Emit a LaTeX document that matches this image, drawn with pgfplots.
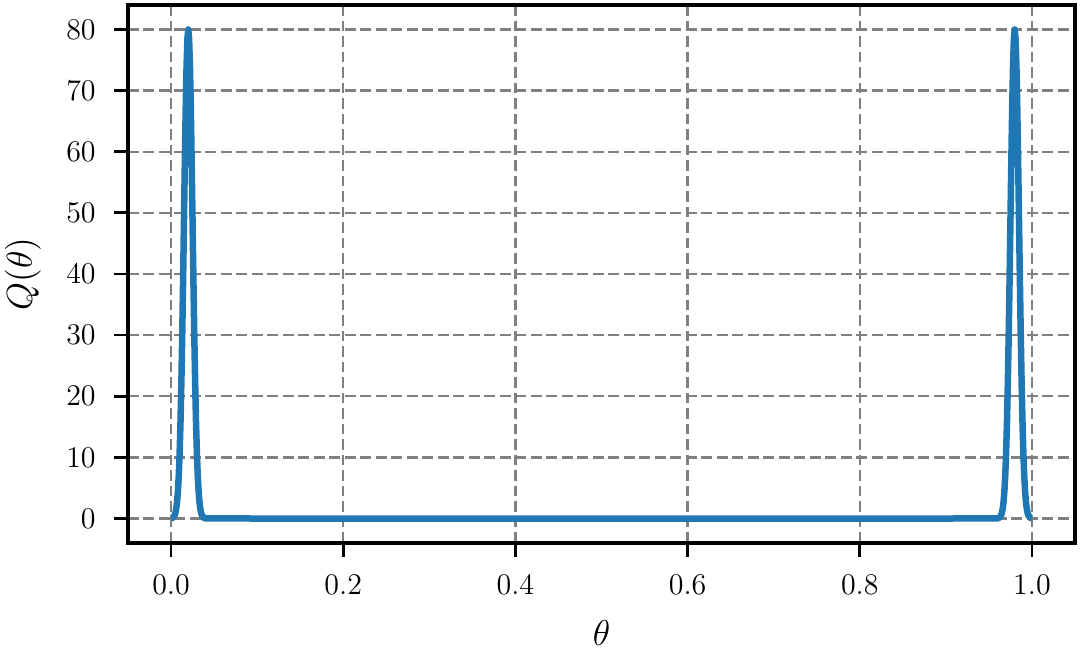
\documentclass[border=0pt]{standalone}
\usepackage{pgfplots}
\pgfplotsset{compat=1.18}
\definecolor{mplblue}{HTML}{1F77B4}
\begin{document}
\begin{tikzpicture}
\begin{axis}[
    scale only axis,
    width=378.8pt, height=215.2pt,
    xmin=-0.05, xmax=1.05,
    ymin=-4, ymax=84,
    xtick={0,0.2,...,1.0},
    ytick={0,10,...,80},
    xticklabel style={/pgf/number format/fixed,/pgf/number format/fixed zerofill,/pgf/number format/precision=1},
    tick label style={font=\fontsize{12.5}{14}\selectfont},
    xlabel={$\theta$}, ylabel={$Q(\theta)$},
    label style={font=\fontsize{14}{16}\selectfont},
    xlabel style={at={(axis description cs:0.5,0)}, anchor=center, yshift=-36pt},
    ylabel style={at={(axis description cs:0,0.5)}, anchor=center, yshift=42pt},
    axis line style={line width=1.4pt},
    tick style={line width=1.1pt, black},
    tick align=outside,
    major tick length=5.6pt,
    xtick pos=bottom, ytick pos=left,
    grid=major,
    major grid style={black!50, dash pattern=on 4.3pt off 1.9pt, line width=0.9pt},
    xticklabel style={yshift=-3.8pt},
    yticklabel style={xshift=-3.8pt},
]
\addplot[mplblue, line width=2.6pt, line join=round] coordinates {
(0.000,0.03) (0.002,0.12) (0.004,0.48) (0.005,0.89) (0.006,1.59) (0.007,2.72)
(0.008,4.49) (0.009,7.11) (0.010,10.83) (0.011,15.83) (0.012,22.24)
(0.013,30.03) (0.014,38.94) (0.015,48.52) (0.016,58.09) (0.017,66.82)
(0.018,73.85) (0.019,78.42) (0.020,80.00) (0.021,78.42) (0.022,73.85)
(0.023,66.82) (0.024,58.09) (0.025,48.52) (0.026,38.94) (0.027,30.03)
(0.028,22.24) (0.029,15.83) (0.030,10.83) (0.031,7.11) (0.032,4.49)
(0.033,2.72) (0.034,1.59) (0.035,0.89) (0.036,0.48) (0.038,0.12) (0.040,0.03)
(0.100,0) (0.500,0) (0.900,0)
(0.960,0.03) (0.962,0.12) (0.964,0.48) (0.965,0.89) (0.966,1.59) (0.967,2.72)
(0.968,4.49) (0.969,7.11) (0.970,10.83) (0.971,15.83) (0.972,22.24)
(0.973,30.03) (0.974,38.94) (0.975,48.52) (0.976,58.09) (0.977,66.82)
(0.978,73.85) (0.979,78.42) (0.980,80.00) (0.981,78.42) (0.982,73.85)
(0.983,66.82) (0.984,58.09) (0.985,48.52) (0.986,38.94) (0.987,30.03)
(0.988,22.24) (0.989,15.83) (0.990,10.83) (0.991,7.11) (0.992,4.49)
(0.993,2.72) (0.994,1.59) (0.995,0.89) (0.996,0.48) (0.998,0.12) (1.000,0.03)
};
\coordinate (ll) at (rel axis cs:0,0);
\coordinate (ur) at (rel axis cs:1,1);
\end{axis}
\pgfresetboundingbox
\path ([shift={(-51.2pt,-46pt)}]ll) rectangle ([shift={(2pt,2pt)}]ur);
\end{tikzpicture}
\end{document}
